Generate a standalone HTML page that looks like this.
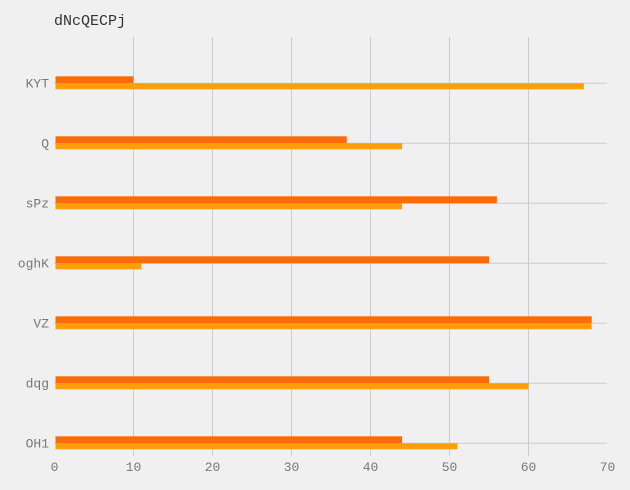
<!DOCTYPE html>
<html><head><meta charset="utf-8"><style>
body{margin:0;background:#f0f0f0;}
svg{display:block;font-family:"Liberation Mono",monospace;}
</style></head><body>
<svg id="c" width="630" height="490">
<rect width="630" height="490" fill="#f0f0f0"/>
<text x="54" y="25" font-size="15" fill="#333">dNcQECPj</text>
<g id="grid"></g><g id="bars"></g><g id="labels"></g>
</svg>
<script>
const categories=["KYT","Q","sPz","oghK","VZ","dqg","OH1"];
const seriesA=[10,37,56,55,68,55,44];
const seriesB=[67,44,44,11,68,60,51];
const xTicks=[0,10,20,30,40,50,60,70];
const ns="http://www.w3.org/2000/svg";
const x0=54.5,xs=7.9,y0=83.3,dy=60;
const X=v=>x0+v*xs, Y=i=>y0+i*dy;
function mk(t,a,p){const e=document.createElementNS(ns,t);for(const k in a)e.setAttribute(k,a[k]);document.getElementById(p).appendChild(e);return e;}
xTicks.forEach(t=>{
  if(t>0&&t<70){const l=mk('line',{x1:X(t),x2:X(t),y1:37,y2:456,stroke:'#cbcbcb','stroke-width':1},'grid');
  
  }
  const tx=mk('text',{x:X(t),y:471,'text-anchor':'middle','font-size':13,fill:'#777'},'labels');
  tx.textContent=t;
  
  
});
categories.forEach((c,i)=>{
  const l=mk('line',{x1:54,x2:607,y1:Y(i),y2:Y(i),stroke:'#cbcbcb','stroke-width':1},'grid');
  
  
  const a=mk('rect',{x:X(0)+1,y:Y(i)-7,width:X(seriesA[i])-X(0)-1,height:7,fill:'#fc6b0a'},'bars');
  
  
  const b=mk('rect',{x:X(0)+1,y:Y(i),width:X(seriesB[i])-X(0)-1,height:6,fill:'#fc9d0a'},'bars');
  
  
  const t=mk('text',{x:49,y:Y(i)+4,'text-anchor':'end','font-size':13,fill:'#777'},'labels');
  t.textContent=c;
  
  
});
</script>
</body></html>
